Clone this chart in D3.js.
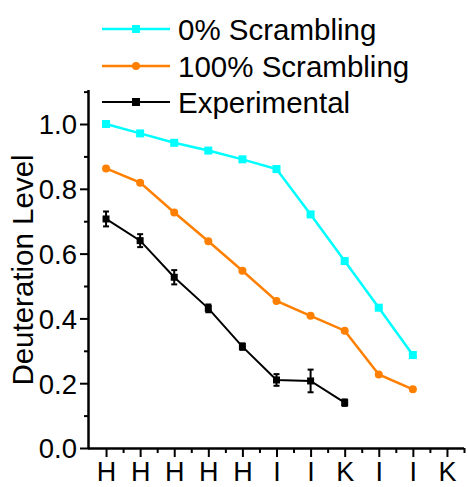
<!DOCTYPE html>
<html>
<head>
<meta charset="utf-8">
<script src="https://cdn.jsdelivr.net/npm/d3@7"></script>
<style>
  html, body { margin: 0; padding: 0; background: #fff; }
  svg { display: block; }
  text { font-family: Arial, "Liberation Sans", sans-serif; }
</style>
</head>
<body>
<svg id="chart" width="467" height="487"></svg>
<script>
// ---- data ----
const categories = ["H", "H", "H", "H", "H", "I", "I", "K", "I", "I", "K"];
const seriesNames = ["0% Scrambling", "100% Scrambling", "Experimental"];
const scramble0 = [1.00, 0.971, 0.942, 0.918, 0.891, 0.861, 0.721, 0.577, 0.433, 0.287];
const scramble100 = [0.863, 0.819, 0.727, 0.638, 0.547, 0.454, 0.408, 0.362, 0.227, 0.181];
const experimental = [0.707, 0.640, 0.527, 0.431, 0.313, 0.210, 0.207, 0.140];
const experimentalErr = [0.023, 0.020, 0.022, 0.012, 0.010, 0.018, 0.035, 0.010];
const yTicks = [0.0, 0.2, 0.4, 0.6, 0.8, 1.0];
const yMinorTicks = [0.1, 0.3, 0.5, 0.7, 0.9, 1.1];

(function () {
// ---- layout ----
const svg = d3.select("#chart");
const pLeft = 89, pRight = 464, pTop = 90, pBottom = 448;
const x = d3.scaleLinear().domain([0.5, 11.5]).range([pLeft, pRight]);
const y = d3.scaleLinear().domain([0, 1.105]).range([pBottom, pTop]);
const font = 'Arial, "Liberation Sans", sans-serif';

// ---- axes ----
const xMajor = d3.range(1, categories.length + 1);
const xMinor = d3.range(1.5, categories.length + 0.6, 1);

const gx = svg.append("g").attr("transform", `translate(0,${pBottom})`)
  .call(d3.axisBottom(x).tickValues(xMajor).tickSize(9).tickSizeOuter(0)
    .tickFormat(d => categories[d - 1]));
gx.select(".domain").attr("stroke", "#000").attr("stroke-width", 2.5)
  .attr("d", `M${pLeft - 1},0.5H${pRight}`);
gx.selectAll(".tick line").attr("stroke", "#000").attr("stroke-width", 2);
gx.selectAll(".tick text").attr("font-size", 27).attr("font-family", font)
  .attr("fill", "#000").attr("dy", 0).attr("y", 33);
svg.append("g").attr("transform", `translate(0,${pBottom})`)
  .call(d3.axisBottom(x).tickValues(xMinor).tickSize(5).tickFormat(""))
  .call(g => g.select(".domain").remove())
  .selectAll(".tick line").attr("stroke", "#000").attr("stroke-width", 2);

const gy = svg.append("g").attr("transform", `translate(${pLeft},0)`)
  .call(d3.axisLeft(y).tickValues(yTicks).tickSize(9).tickSizeOuter(0)
    .tickFormat(d3.format(".1f")));
gy.select(".domain").attr("stroke", "#000").attr("stroke-width", 2.5)
  .attr("d", `M-0.5,${pTop}V${pBottom + 1}`);
gy.selectAll(".tick line").attr("stroke", "#000").attr("stroke-width", 2);
gy.selectAll(".tick text").attr("font-size", 27.5).attr("font-family", font)
  .attr("fill", "#000").attr("x", -12).attr("dy", "0.36em");
svg.append("g").attr("transform", `translate(${pLeft},0)`)
  .call(d3.axisLeft(y).tickValues(yMinorTicks).tickSize(5).tickFormat(""))
  .call(g => g.select(".domain").remove())
  .selectAll(".tick line").attr("stroke", "#000").attr("stroke-width", 2);

svg.append("text")
  .attr("transform", `translate(33,${(155 + 385) / 2}) rotate(-90)`)
  .attr("text-anchor", "middle")
  .attr("font-size", 29.5).attr("font-family", font).attr("fill", "#000")
  .text("Deuteration Level");

// ---- series ----
const line = d3.line().x((d, i) => x(i + 1)).y(d => y(d));
const colors = ["#00FFFF", "#FF8000", "#000000"];

svg.append("path").datum(scramble0).attr("d", line)
  .attr("fill", "none").attr("stroke", colors[0]).attr("stroke-width", 2.5);
svg.append("path").datum(scramble100).attr("d", line)
  .attr("fill", "none").attr("stroke", colors[1]).attr("stroke-width", 2.5);
svg.append("path").datum(experimental).attr("d", line)
  .attr("fill", "none").attr("stroke", colors[2]).attr("stroke-width", 2);

svg.append("g").selectAll("rect").data(scramble0).join("rect")
  .attr("x", (d, i) => x(i + 1) - 4).attr("y", d => y(d) - 4)
  .attr("width", 8).attr("height", 8).attr("fill", colors[0]);
svg.append("g").selectAll("circle").data(scramble100).join("circle")
  .attr("cx", (d, i) => x(i + 1)).attr("cy", d => y(d)).attr("r", 4)
  .attr("fill", colors[1]);

const eg = svg.append("g").attr("stroke", "#000").attr("stroke-width", 2);
experimental.forEach((d, i) => {
  const cx = x(i + 1), e = experimentalErr[i];
  eg.append("line").attr("x1", cx).attr("x2", cx).attr("y1", y(d - e)).attr("y2", y(d + e));
  eg.append("line").attr("x1", cx - 3).attr("x2", cx + 3).attr("y1", y(d - e)).attr("y2", y(d - e));
  eg.append("line").attr("x1", cx - 3).attr("x2", cx + 3).attr("y1", y(d + e)).attr("y2", y(d + e));
});
svg.append("g").selectAll("rect").data(experimental).join("rect")
  .attr("x", (d, i) => x(i + 1) - 3.5).attr("y", d => y(d) - 3.5)
  .attr("width", 7).attr("height", 7).attr("fill", colors[2]);

// ---- legend ----
const legY = [29, 66, 102];
const lg = svg.append("g");
seriesNames.forEach((name, i) => {
  const g = lg.append("g").attr("transform", `translate(0,${legY[i]})`);
  g.append("line").attr("x1", 102).attr("x2", 170).attr("y1", 0).attr("y2", 0)
    .attr("stroke", colors[i]).attr("stroke-width", i === 2 ? 2 : 2.5);
  if (i === 1) g.append("circle").attr("cx", 136).attr("cy", 0).attr("r", 4).attr("fill", colors[i]);
  else g.append("rect").attr("x", 132).attr("y", -4).attr("width", 8).attr("height", 8).attr("fill", colors[i]);
  g.append("text").attr("x", 178).attr("y", 0).attr("dy", "0.36em")
    .attr("font-size", 29.5).attr("font-family", font).attr("fill", "#000").text(name);
});
})();
</script>
</body>
</html>
